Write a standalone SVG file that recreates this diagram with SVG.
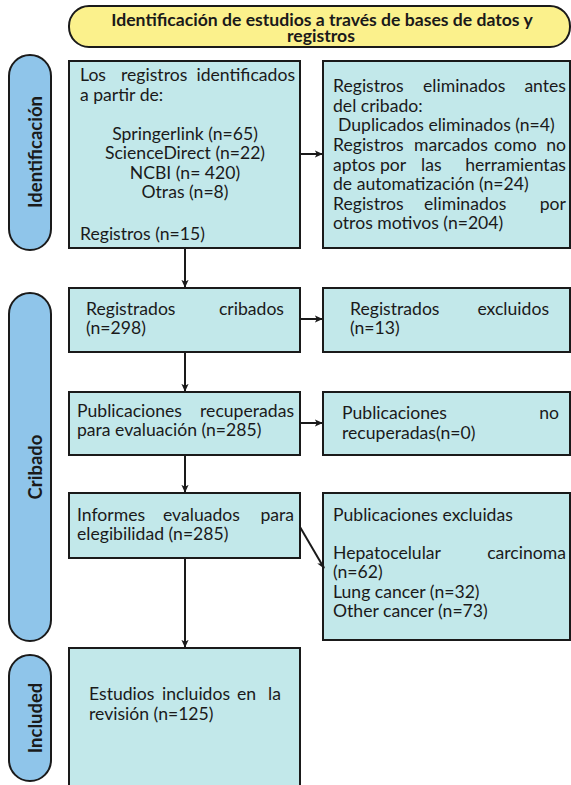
<svg xmlns="http://www.w3.org/2000/svg" width="571" height="785" viewBox="0 0 571 785">
<style>
.box{fill:#c2e8ea;stroke:#1a1a1a;stroke-width:2}
.pill{fill:#8fc5ea;stroke:#1a1a1a;stroke-width:2}
.title{fill:#fbf18c;stroke:#1a1a1a;stroke-width:2}
text{font-family:Lato,"Liberation Sans",sans-serif;font-size:17.6px;fill:#1a1a1a}
.b{font-weight:bold}
.c{text-anchor:middle}
.e{text-anchor:end}
.side{font-weight:bold;font-size:18.5px;text-anchor:middle}
.conn line{stroke:#1a1a1a;stroke-width:2;fill:none}
</style>
<defs>
<marker id="ah" viewBox="0 0 10 10" refX="9" refY="5" markerWidth="8" markerHeight="8" orient="auto" markerUnits="userSpaceOnUse">
<path d="M0,0.5 L10,5 L0,9.5 L2.5,5 z" fill="#1a1a1a"/>
</marker>
</defs>
<rect width="571" height="785" fill="#ffffff"/>

<g id="title">
<rect class="title" x="69" y="6" width="501" height="41" rx="20" ry="20"/>
<text class="b c" x="322" y="26" font-size="18">Identificación de estudios a través de bases de datos y</text>
<text class="b c" x="321" y="42" font-size="18">registros</text>
</g>

<g id="lbl-identificacion">
<rect class="pill" x="9" y="55" width="42" height="195" rx="21" ry="21"/>
<text class="side" transform="translate(42,152) rotate(-90)">Identificación</text>
</g>
<g id="lbl-cribado">
<rect class="pill" x="9" y="293" width="42" height="348" rx="21" ry="21"/>
<text class="side" transform="translate(42,467) rotate(-90)">Cribado</text>
</g>
<g id="lbl-included">
<rect class="pill" x="9" y="655" width="42" height="126" rx="21" ry="21"/>
<text class="side" transform="translate(42,718) rotate(-90)">Included</text>
</g>

<g id="n1">
<rect class="box" x="69" y="61" width="231" height="187"/>
<text x="80" y="81">Los</text><text x="121" y="81">registros</text><text class="e" x="295" y="81">identificados</text>
<text x="80" y="101">a partir de:</text>
<text class="c" x="185" y="140">Springerlink (n=65)</text>
<text class="c" x="185" y="159">ScienceDirect (n=22)</text>
<text class="c" x="185" y="179">NCBI (n= 420)</text>
<text class="c" x="185" y="198">Otras (n=8)</text>
<text x="80" y="240">Registros (n=15)</text>
</g>

<g id="n2">
<rect class="box" x="323" y="61" width="247" height="187"/>
<text x="333" y="92">Registros</text><text x="423" y="92">eliminados</text><text class="e" x="566" y="92">antes</text>
<text x="333" y="112">del cribado:</text>
<text x="338" y="131">Duplicados eliminados (n=4)</text>
<text x="333" y="151">Registros</text><text x="414" y="151">marcados</text><text x="494" y="151">como</text><text class="e" x="566" y="151">no</text>
<text x="333" y="171">aptos</text><text x="380" y="171">por</text><text x="421" y="171">las</text><text class="e" x="566" y="171">herramientas</text>
<text x="333" y="190">de automatización (n=24)</text>
<text x="333" y="210">Registros</text><text x="424" y="210">eliminados</text><text class="e" x="566" y="210">por</text>
<text x="333" y="229">otros motivos (n=204)</text>
</g>

<g id="n3">
<rect class="box" x="69" y="288" width="231" height="64"/>
<text x="86" y="315">Registrados</text><text class="e" x="284" y="315">cribados</text>
<text x="86" y="334">(n=298)</text>
</g>

<g id="n4">
<rect class="box" x="323" y="288" width="247" height="64"/>
<text x="350" y="315">Registrados</text><text class="e" x="549" y="315">excluidos</text>
<text x="350" y="334">(n=13)</text>
</g>

<g id="n5">
<rect class="box" x="69" y="392" width="231" height="63"/>
<text x="77" y="417">Publicaciones</text><text class="e" x="294" y="417">recuperadas</text>
<text x="77" y="436">para evaluación (n=285)</text>
</g>

<g id="n6">
<rect class="box" x="323" y="392" width="247" height="63"/>
<text x="342" y="419">Publicaciones</text><text class="e" x="559" y="419">no</text>
<text x="342" y="439">recuperadas(n=0)</text>
</g>

<g id="n7">
<rect class="box" x="69" y="493" width="231" height="65"/>
<text x="77" y="521">Informes</text><text x="163" y="521">evaluados</text><text class="e" x="294" y="521">para</text>
<text x="77" y="540">elegibilidad (n=285)</text>
</g>

<g id="n8">
<rect class="box" x="323" y="493" width="247" height="147"/>
<text x="333" y="521">Publicaciones excluidas</text>
<text x="333" y="559">Hepatocelular</text><text class="e" x="566" y="559">carcinoma</text>
<text x="333" y="578">(n=62)</text>
<text x="333" y="598">Lung cancer (n=32)</text>
<text x="333" y="617">Other cancer (n=73)</text>
</g>

<g id="n9">
<rect class="box" x="69" y="648" width="231" height="145"/>
<text x="89" y="700">Estudios</text><text x="162" y="700">incluidos</text><text x="237" y="700">en</text><text class="e" x="281" y="700">la</text>
<text x="89" y="720">revisión (n=125)</text>
</g>

<g id="connectors" class="conn">
<line x1="185" y1="248" x2="185" y2="287" marker-end="url(#ah)"/>
<line x1="300" y1="154" x2="322" y2="154" marker-end="url(#ah)"/>
<line x1="185" y1="352" x2="185" y2="391" marker-end="url(#ah)"/>
<line x1="300" y1="319" x2="322" y2="319" marker-end="url(#ah)"/>
<line x1="185" y1="455" x2="185" y2="492" marker-end="url(#ah)"/>
<line x1="300" y1="423" x2="322" y2="423" marker-end="url(#ah)"/>
<line x1="185" y1="558" x2="185" y2="647" marker-end="url(#ah)"/>
<line x1="300" y1="527" x2="324" y2="568" marker-end="url(#ah)"/>
</g>
</svg>
